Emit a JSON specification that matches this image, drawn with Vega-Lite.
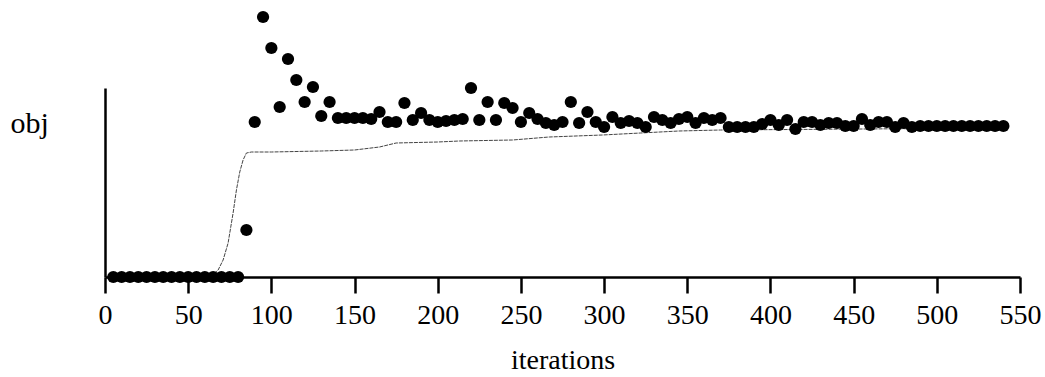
{
  "$schema": "https://vega.github.io/schema/vega-lite/v6.json",
  "width": 915,
  "height": 189,
  "autosize": {"type": "none"},
  "padding": {"left": 105, "top": 88, "right": 25, "bottom": 100},
  "background": "white",
  "config": {"view": {"stroke": null}, "font": "Liberation Serif"},
  "datasets": {
    "pts": [
      {"it": 5, "obj": 0}, {"it": 10, "obj": 0}, {"it": 15, "obj": 0}, {"it": 20, "obj": 0},
      {"it": 25, "obj": 0}, {"it": 30, "obj": 0}, {"it": 35, "obj": 0}, {"it": 40, "obj": 0},
      {"it": 45, "obj": 0}, {"it": 50, "obj": 0}, {"it": 55, "obj": 0}, {"it": 60, "obj": 0},
      {"it": 65, "obj": 0}, {"it": 70, "obj": 0}, {"it": 75, "obj": 0}, {"it": 80, "obj": 0},
      {"it": 85, "obj": 47}, {"it": 90, "obj": 155}, {"it": 95, "obj": 260}, {"it": 100, "obj": 229},
      {"it": 105, "obj": 170}, {"it": 110, "obj": 218}, {"it": 115, "obj": 197}, {"it": 120, "obj": 175},
      {"it": 125, "obj": 190}, {"it": 130, "obj": 161}, {"it": 135, "obj": 175}, {"it": 140, "obj": 159},
      {"it": 145, "obj": 159}, {"it": 150, "obj": 159}, {"it": 155, "obj": 159}, {"it": 160, "obj": 158},
      {"it": 165, "obj": 165}, {"it": 170, "obj": 155}, {"it": 175, "obj": 155}, {"it": 180, "obj": 174},
      {"it": 185, "obj": 157}, {"it": 190, "obj": 164}, {"it": 195, "obj": 157}, {"it": 200, "obj": 155},
      {"it": 205, "obj": 156}, {"it": 210, "obj": 157}, {"it": 215, "obj": 158}, {"it": 220, "obj": 189},
      {"it": 225, "obj": 157}, {"it": 230, "obj": 175}, {"it": 235, "obj": 157}, {"it": 240, "obj": 174},
      {"it": 245, "obj": 169}, {"it": 250, "obj": 155}, {"it": 255, "obj": 164}, {"it": 260, "obj": 158},
      {"it": 265, "obj": 154}, {"it": 270, "obj": 152}, {"it": 275, "obj": 155}, {"it": 280, "obj": 175},
      {"it": 285, "obj": 154}, {"it": 290, "obj": 165}, {"it": 295, "obj": 155}, {"it": 300, "obj": 150},
      {"it": 305, "obj": 160}, {"it": 310, "obj": 154}, {"it": 315, "obj": 156}, {"it": 320, "obj": 154},
      {"it": 325, "obj": 150}, {"it": 330, "obj": 160}, {"it": 335, "obj": 157}, {"it": 340, "obj": 154},
      {"it": 345, "obj": 158}, {"it": 350, "obj": 160}, {"it": 355, "obj": 154}, {"it": 360, "obj": 159},
      {"it": 365, "obj": 157}, {"it": 370, "obj": 159}, {"it": 375, "obj": 150}, {"it": 380, "obj": 150},
      {"it": 385, "obj": 150}, {"it": 390, "obj": 150}, {"it": 395, "obj": 153}, {"it": 400, "obj": 157},
      {"it": 405, "obj": 152}, {"it": 410, "obj": 157}, {"it": 415, "obj": 148}, {"it": 420, "obj": 155},
      {"it": 425, "obj": 155}, {"it": 430, "obj": 152}, {"it": 435, "obj": 154}, {"it": 440, "obj": 154},
      {"it": 445, "obj": 151}, {"it": 450, "obj": 151}, {"it": 455, "obj": 158}, {"it": 460, "obj": 152},
      {"it": 465, "obj": 155}, {"it": 470, "obj": 155}, {"it": 475, "obj": 150}, {"it": 480, "obj": 154},
      {"it": 485, "obj": 150}, {"it": 490, "obj": 151}, {"it": 495, "obj": 151}, {"it": 500, "obj": 151},
      {"it": 505, "obj": 151}, {"it": 510, "obj": 151}, {"it": 515, "obj": 151}, {"it": 520, "obj": 151},
      {"it": 525, "obj": 151}, {"it": 530, "obj": 151}, {"it": 535, "obj": 151}, {"it": 540, "obj": 151}
    ],
    "curve": [
      {"it": 60, "obj": 0}, {"it": 64, "obj": 1}, {"it": 68, "obj": 7}, {"it": 71, "obj": 17},
      {"it": 74, "obj": 34}, {"it": 77, "obj": 64}, {"it": 79, "obj": 87}, {"it": 81, "obj": 105},
      {"it": 83, "obj": 117}, {"it": 85, "obj": 124}, {"it": 88, "obj": 125}, {"it": 100, "obj": 125},
      {"it": 130, "obj": 126}, {"it": 150, "obj": 127}, {"it": 165, "obj": 130}, {"it": 175, "obj": 134},
      {"it": 200, "obj": 135}, {"it": 213, "obj": 136}, {"it": 245, "obj": 137}, {"it": 267, "obj": 140},
      {"it": 299, "obj": 142}, {"it": 322, "obj": 144}, {"it": 345, "obj": 146}, {"it": 370, "obj": 147},
      {"it": 540, "obj": 149}
    ]
  },
  "encoding": {
    "x": {
      "field": "it", "type": "quantitative",
      "scale": {"domain": [0, 550], "nice": false},
      "axis": {
        "title": "iterations", "values": [0, 50, 100, 150, 200, 250, 300, 350, 400, 450, 500, 550],
        "grid": false, "domainColor": "black", "domainWidth": 2.5, "tickColor": "black",
        "tickWidth": 2.5, "tickSize": 16, "labelFontSize": 28, "labelColor": "black",
        "labelPadding": 8, "labelFlush": false, "labelOverlap": false, "labelFont": "Liberation Serif", "titleFont": "Liberation Serif",
        "titleFontSize": 28, "titleFontWeight": "normal", "titleColor": "black", "titlePadding": 17
      }
    },
    "y": {
      "field": "obj", "type": "quantitative",
      "scale": {"domain": [0, 189], "nice": false, "zero": false},
      "axis": {
        "title": "obj", "ticks": false, "labels": false, "grid": false,
        "domainColor": "black", "domainWidth": 2.5, "titleAngle": 0, "titleAlign": "left",
        "titleBaseline": "alphabetic", "titleX": -95, "titleY": 44,
        "titleFont": "Liberation Serif", "titleFontSize": 30, "titleFontWeight": "normal", "titleColor": "black"
      }
    }
  },
  "layer": [
    {
      "data": {"name": "curve"},
      "mark": {"type": "line", "color": "#444444", "strokeWidth": 1, "strokeDash": [4, 1], "clip": false}
    },
    {
      "data": {"name": "pts"},
      "mark": {"type": "circle", "color": "black", "opacity": 1, "size": 150, "clip": false}
    }
  ]
}
